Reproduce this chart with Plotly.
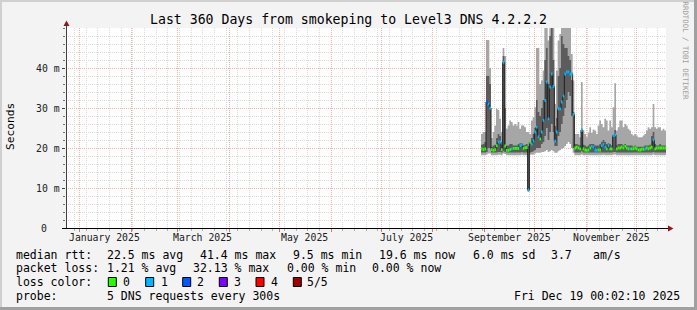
import plotly.graph_objects as go
from datetime import datetime, timedelta

# ---------------- data ----------------
data_start = "2025-08-30"   # first daily sample
median_ms = [19.8, 19.6, 19.8, 31.5, 31.0, 30.0, 19.6, 19.4, 19.6, 20.6,
             21.5, 21.5, 19.6, 41.4, 20.5, 19.4, 19.4, 19.6, 19.8, 19.9,
             19.9, 19.9, 19.9, 20.6, 20.8, 19.9, 20.1, 20.1, 9.5, 21.4,
             21.0, 21.8, 24.0, 25.2, 22.8, 22.3, 24.0, 26.9, 31.9, 36.5,
             27.3, 35.2, 38.5, 35.4, 21.7, 24.0, 29.8, 29.8, 31.5, 33.0,
             38.5, 39.0, 39.0, 38.5, 38.5, 28.4, 20.0, 20.2, 20.0, 19.8,
             24.5, 19.8, 19.5, 19.4, 19.5, 20.0, 20.4, 20.2, 19.5, 19.4,
             19.5, 19.5, 20.6, 20.9, 20.2, 19.8, 20.6, 19.8, 19.8, 23.1,
             23.3, 19.8, 20.0, 20.0, 20.2, 20.0, 20.4, 20.0, 19.8, 19.8,
             19.8, 19.8, 20.0, 19.8, 19.5, 19.5, 19.7, 19.7, 19.8, 20.0,
             19.8, 20.0, 20.2, 22.0, 19.8, 20.0, 20.0, 20.0, 20.0, 20.0,
             20.0]
loss_count = [0, 0, 0, 2, 1, 1, 0, 0, 0, 0,
              1, 1, 0, 1, 0, 0, 0, 0, 1, 0,
              0, 0, 0, 1, 1, 0, 0, 0, 1, 0,
              1, 1, 1, 1, 1, 0, 1, 1, 1, 1,
              1, 1, 1, 1, 1, 1, 1, 1, 1, 1,
              1, 1, 1, 1, 1, 1, 0, 0, 0, 0,
              1, 0, 0, 0, 0, 0, 1, 1, 1, 1,
              0, 0, 1, 1, 1, 0, 1, 0, 0, 1,
              1, 0, 0, 0, 0, 0, 0, 0, 0, 1,
              0, 0, 0, 0, 0, 0, 0, 0, 1, 0,
              0, 0, 0, 1, 0, 0, 0, 0, 0, 0,
              0]
smoke_lo = [18.2, 18.2, 18.2, 18.4, 18.6, 18.6, 18.2, 18.2, 18.2, 18.2,
            18.3, 18.3, 18.2, 18.6, 18.5, 18.2, 18.2, 18.2, 18.2, 18.2,
            18.2, 18.2, 18.2, 18.2, 18.3, 18.2, 18.2, 18.2, 9.0, 18.3,
            18.3, 18.4, 18.6, 18.8, 18.8, 18.8, 19.0, 19.0, 19.2, 19.5,
            19.0, 19.2, 19.5, 19.2, 18.8, 18.8, 19.2, 19.5, 19.8, 20.0,
            20.5, 21.0, 21.5, 21.0, 20.0, 18.8, 18.2, 18.2, 18.2, 18.2,
            18.4, 18.2, 18.2, 18.2, 18.2, 18.2, 18.2, 18.2, 18.2, 18.2,
            18.2, 18.2, 18.2, 18.3, 18.2, 18.2, 18.2, 18.2, 18.2, 18.3,
            18.4, 18.2, 18.2, 18.2, 18.2, 18.2, 18.2, 18.2, 18.2, 18.2,
            18.2, 18.2, 18.2, 18.2, 18.2, 18.2, 18.2, 18.2, 18.2, 18.2,
            18.2, 18.2, 18.2, 18.4, 18.2, 18.2, 18.2, 18.2, 18.2, 18.2,
            18.2]
smoke_hi = [23.5, 24.0, 24.0, 47.0, 47.0, 40.0, 22.5, 24.0, 25.6, 29.8,
            29.5, 27.3, 24.0, 45.0, 43.0, 24.8, 25.6, 26.9, 26.5, 25.6,
            26.0, 25.6, 26.5, 24.8, 25.6, 25.6, 25.2, 24.0, 24.0, 23.5,
            26.9, 27.7, 30.2, 45.0, 45.0, 36.0, 36.9, 39.4, 50.0, 50.0,
            46.9, 50.0, 50.0, 50.0, 31.0, 39.4, 46.9, 48.5, 50.0, 50.0,
            50.0, 50.0, 50.0, 50.0, 43.5, 36.9, 23.5, 23.5, 23.5, 22.7,
            36.5, 24.4, 23.5, 22.7, 23.8, 25.2, 23.8, 24.6, 24.4, 23.5,
            25.6, 26.9, 26.0, 25.2, 27.3, 26.9, 24.4, 26.9, 25.2, 30.2,
            36.2, 24.4, 25.2, 26.9, 26.9, 25.2, 26.0, 25.6, 24.8, 24.4,
            23.5, 23.1, 23.5, 23.1, 22.7, 22.7, 22.7, 23.1, 23.5, 24.4,
            25.2, 24.8, 25.2, 31.0, 25.2, 24.8, 25.2, 25.2, 24.4, 24.8,
            24.4]
core_lo = [18.9, 18.9, 18.9, 19.0, 20.0, 20.0, 18.9, 18.9, 18.9, 18.9,
           19.0, 19.0, 18.9, 19.2, 19.0, 18.9, 18.9, 18.9, 18.9, 18.9,
           18.9, 18.9, 18.9, 18.9, 19.0, 18.9, 18.9, 18.9, 9.3, 18.9,
           19.0, 19.2, 19.5, 20.0, 20.0, 20.0, 21.0, 21.5, 23.0, 25.0,
           22.0, 24.0, 26.0, 24.0, 20.5, 20.5, 23.0, 24.0, 26.0, 28.0,
           30.0, 32.0, 34.0, 33.0, 28.0, 20.0, 18.9, 18.9, 18.9, 18.9,
           19.2, 18.9, 18.9, 18.9, 18.9, 18.9, 18.9, 18.9, 18.9, 18.9,
           18.9, 18.9, 18.9, 18.9, 18.9, 18.9, 18.9, 18.9, 18.9, 19.0,
           19.0, 18.9, 18.9, 18.9, 18.9, 18.9, 18.9, 18.9, 18.9, 18.9,
           18.9, 18.9, 18.9, 18.9, 18.9, 18.9, 18.9, 18.9, 18.9, 18.9,
           18.9, 18.9, 18.9, 19.0, 18.9, 18.9, 18.9, 18.9, 18.9, 18.9,
           18.9]
core_hi = [20.8, 21.0, 21.5, 38.0, 38.0, 36.0, 20.3, 20.6, 20.8, 22.5,
           23.5, 23.0, 20.8, 43.0, 30.0, 20.6, 20.6, 21.0, 21.0, 20.6,
           20.6, 20.6, 21.0, 21.2, 21.2, 20.6, 20.8, 21.0, 20.5, 21.5,
           22.5, 23.5, 25.0, 32.0, 29.0, 28.0, 30.0, 32.0, 42.0, 45.0,
           36.0, 48.0, 50.0, 42.0, 25.5, 27.5, 38.0, 40.0, 48.0, 46.0,
           45.0, 45.0, 43.0, 42.0, 37.0, 29.0, 21.0, 21.0, 20.8, 20.6,
           24.0, 20.8, 20.6, 20.3, 20.6, 21.0, 21.0, 21.0, 20.6, 20.6,
           20.6, 21.0, 21.5, 22.0, 21.5, 21.0, 21.2, 21.0, 20.6, 23.0,
           24.5, 20.6, 21.0, 21.0, 21.0, 20.6, 21.0, 20.6, 20.6, 20.6,
           20.6, 20.3, 20.6, 20.3, 20.3, 20.3, 20.3, 20.3, 20.6, 20.6,
           20.6, 20.8, 23.0, 24.0, 21.0, 20.6, 20.6, 21.0, 20.6, 20.6,
           20.6]

loss_labels = ["0", "1", "2", "3", "4", "5/5"]
loss_colors = ["#26ff00", "#00b8ff", "#0059ff", "#7e00ff", "#ff0000", "#a10000"]

y_tick_vals = [0, 10, 20, 30, 40]
y_tick_text = ["0", "10 m", "20 m", "30 m", "40 m"]
x_label_dates = ["2025-01-16", "2025-03-16", "2025-05-16", "2025-07-16", "2025-09-16", "2025-11-16"]
x_label_text = ["January 2025", "March 2025", "May 2025", "July 2025", "September 2025", "November 2025"]

title_text = "Last 360 Days from smokeping to Level3 DNS 4.2.2.2"
legend_rows = [
    [("median rtt:", 16), ("22.5 ms avg", 107.3), ("41.4 ms max", 200), ("9.5 ms min", 293.3),
     ("19.6 ms now", 379.3), ("6.0 ms sd", 472.7), ("3.7", 551), ("am/s", 593.3)],
    [("packet loss:", 16), ("1.21 % avg", 107.3), ("32.13 % max", 193.3), ("0.00 % min", 286.7),
     ("0.00 % now", 372.3)],
    [("loss color:", 16)],
    [("probe:", 16), ("5 DNS requests every 300s", 107.3)],
]
stamp_text = "Fri Dec 19 00:02:10 2025"
brand_text = "RRDTOOL / TOBI OETIKER"

# ---------------- geometry ----------------
W, H = 697, 310
L, R, T, B = 66, 31, 28, 82
PW, PH = W - L - R, H - T - B
FONT = "DejaVu Sans Mono"

def px(x):
    return (x - L) / PW

def py(y):
    return (H - B - y) / PH

x_start = datetime(2024, 12, 24, 0, 2, 10)
x_end = datetime(2025, 12, 19, 0, 2, 10)
d0 = datetime.fromisoformat(data_start)
n = len(median_ms)
edges = [d0 + timedelta(days=i) for i in range(n + 1)]

def ext(a):
    return list(a) + [a[-1]]

fig = go.Figure()

# smoke (outer, light)
fig.add_trace(go.Scatter(x=edges, y=ext(smoke_lo), mode="lines", line=dict(width=0, shape="hv"),
                         hoverinfo="skip", showlegend=False))
fig.add_trace(go.Scatter(x=edges, y=ext(smoke_hi), mode="lines", line=dict(width=0, shape="hv"),
                         fill="tonexty", fillcolor="#a6a6a6", hoverinfo="skip", showlegend=False))
# smoke (inner, dark)
fig.add_trace(go.Scatter(x=edges, y=ext(core_lo), mode="lines", line=dict(width=0, shape="hv"),
                         hoverinfo="skip", showlegend=False))
fig.add_trace(go.Scatter(x=edges, y=ext(core_hi), mode="lines", line=dict(width=0, shape="hv"),
                         fill="tonexty", fillcolor="#5c5c5c", hoverinfo="skip", showlegend=False))
# median line
fig.add_trace(go.Scatter(x=edges, y=ext(median_ms), mode="lines",
                         line=dict(width=1, shape="hv", color="#202020"),
                         hoverinfo="skip", showlegend=False))
# loss-coloured median stripes
for lvl, col in enumerate(loss_colors):
    xs, ys = [], []
    for i in range(n):
        if loss_count[i] == lvl:
            xs += [edges[i], edges[i + 1], None]
            ys += [median_ms[i], median_ms[i], None]
    if xs:
        fig.add_trace(go.Scatter(x=xs, y=ys, mode="lines", line=dict(width=2.8, color=col),
                                 connectgaps=False, hoverinfo="skip", showlegend=False))

month_starts = [datetime(2025, m, 1) for m in range(1, 13)]
sundays = []
d = datetime(2024, 12, 29)
while d < x_end:
    sundays.append(d)
    d += timedelta(days=7)

GRID_GRAY = "#dadada"
GRID_RED = "#f3b2b2"

fig.update_xaxes(type="date", range=[x_start, x_end], showticklabels=False,
                 tickmode="array", tickvals=month_starts, ticks="outside", ticklen=3,
                 tickcolor="#e07070", showgrid=True, gridcolor=GRID_RED, griddash="1px,1px",
                 gridwidth=1, zeroline=False, showline=False,
                 minor=dict(tickmode="array", tickvals=sundays, showgrid=True, gridcolor=GRID_GRAY,
                            griddash="1px,1px", ticks="outside", ticklen=2, tickcolor="#b0b0b0"))
fig.update_yaxes(range=[0, 50], showticklabels=False, tickmode="array", tickvals=y_tick_vals,
                 ticks="outside", ticklen=3, tickcolor="#404040", showgrid=True, gridcolor=GRID_RED,
                 griddash="1px,1px", zeroline=False, showline=False,
                 minor=dict(dtick=2, showgrid=True, gridcolor=GRID_GRAY, griddash="1px,1px",
                            ticks="outside", ticklen=2, tickcolor="#707070"))

shapes = []
# border
shapes.append(dict(type="rect", xref="paper", yref="paper", x0=px(0), x1=px(W), y0=py(0), y1=py(2),
                   fillcolor="#d0d0d0", line=dict(width=0), layer="above"))
shapes.append(dict(type="rect", xref="paper", yref="paper", x0=px(0), x1=px(2), y0=py(0), y1=py(H),
                   fillcolor="#d0d0d0", line=dict(width=0), layer="above"))
shapes.append(dict(type="rect", xref="paper", yref="paper", x0=px(0), x1=px(W), y0=py(H - 3), y1=py(H),
                   fillcolor="#a0a0a0", line=dict(width=0), layer="above"))
shapes.append(dict(type="rect", xref="paper", yref="paper", x0=px(W - 3), x1=px(W), y0=py(0), y1=py(H),
                   fillcolor="#a0a0a0", line=dict(width=0), layer="above"))
# axes
shapes.append(dict(type="line", xref="paper", yref="paper", x0=px(66.5), x1=px(66.5), y0=py(228), y1=py(24),
                   line=dict(color="#404040", width=1), layer="above"))
shapes.append(dict(type="line", xref="paper", yref="paper", x0=px(62), x1=px(669), y0=py(228.5), y1=py(228.5),
                   line=dict(color="#000000", width=1), layer="above"))
# arrows
shapes.append(dict(type="path", xref="paper", yref="paper",
                   path=f"M {px(63.5)} {py(26)} L {px(69.5)} {py(26)} L {px(66.5)} {py(20.5)} Z",
                   fillcolor="#901818", line=dict(width=0), layer="above"))
shapes.append(dict(type="path", xref="paper", yref="paper",
                   path=f"M {px(668)} {py(225.5)} L {px(668)} {py(231.5)} L {px(673.5)} {py(228.5)} Z",
                   fillcolor="#901818", line=dict(width=0), layer="above"))
# legend colour boxes
box_x = [108.3, 145.7, 182.7, 219.3, 256.0, 293.3]
for bx, col in zip(box_x, loss_colors):
    shapes.append(dict(type="rect", xref="paper", yref="paper", x0=px(bx), x1=px(bx + 8),
                       y0=py(286.5), y1=py(277.5), fillcolor=col, line=dict(color="#000000", width=1),
                       layer="above"))

ann = []
def text(t, x, y, size, anchor="left", color="#000000", angle=0, yanchor="middle"):
    ann.append(dict(text=t, x=px(x), y=py(y), xref="paper", yref="paper", showarrow=False,
                    xanchor=anchor, yanchor=yanchor, textangle=angle, borderpad=0, borderwidth=0,
                    font=dict(family=FONT, size=size, color=color)))

text(title_text, 348.5, 19.5, 13.2, anchor="center")
text("Seconds", 10.3, 126.7, 11.2, anchor="center", angle=-90)
text(brand_text, 685, 50.5, 7.4, anchor="center", color="#a0a0a0", angle=90)
for v, t in zip(y_tick_vals, y_tick_text):
    xr = 59.5 if v else 47.3
    text(t, xr, 228 - v * 4, 9.8, anchor="right", color="#202020")
for dte, t in zip(x_label_dates, x_label_text):
    ann.append(dict(text=t, x=dte, y=py(237.7), xref="x", yref="paper", showarrow=False,
                    xanchor="center", yanchor="middle", borderpad=0, borderwidth=0,
                    font=dict(family=FONT, size=9.8, color="#202020")))
row_y = [254.5, 268.3, 281.8, 295.7]
for row, yy in zip(legend_rows, row_y):
    for t, xx in row:
        text(t, xx, yy, 11.5)
lbl_x = [123.3, 160.7, 197.3, 234.0, 270.7, 307.3]
for t, xx in zip(loss_labels, lbl_x):
    text(t, xx, row_y[2], 11.5)
text(stamp_text, 680, row_y[3], 11.5, anchor="right")

fig.update_layout(width=W, height=H, margin=dict(l=L, r=R, t=T, b=B, autoexpand=False),
                  paper_bgcolor="#f3f3f3", plot_bgcolor="#ffffff", showlegend=False,
                  shapes=shapes, annotations=ann, hovermode=False)

fig.write_html("out.html")
